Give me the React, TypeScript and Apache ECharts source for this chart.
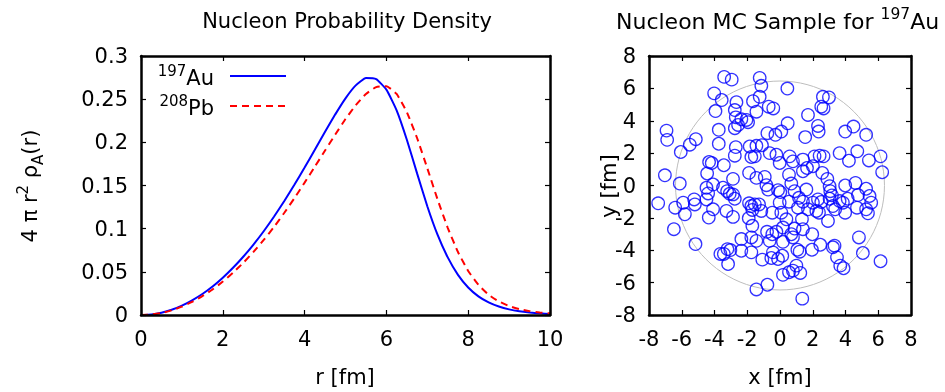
import React, { useEffect, useRef } from "react";
import * as echarts from "echarts";

// ---------- data ----------
const R_FM = [
  0, 0.25, 0.5, 0.75, 1, 1.25, 1.5, 1.75, 2, 2.25, 2.5, 2.75, 3, 3.25, 3.5, 3.75, 4, 4.25, 4.5, 4.75, 5,
  5.25, 5.5, 5.75, 6, 6.25, 6.5, 6.75, 7, 7.25, 7.5, 7.75, 8, 8.25, 8.5, 8.75, 9, 9.25, 9.5, 9.75, 10,
];
const AU_DENSITY = [
  0, 0.0007, 0.0027, 0.006, 0.0108, 0.017, 0.0243, 0.033, 0.0432, 0.0547, 0.0675, 0.0816, 0.097, 0.1138,
  0.1317, 0.1508, 0.1708, 0.1914, 0.2122, 0.2324, 0.251, 0.266, 0.2745, 0.2732, 0.261, 0.237, 0.203, 0.164,
  0.126, 0.093, 0.0667, 0.0465, 0.0319, 0.0216, 0.0146, 0.0098, 0.0065, 0.0043, 0.0029, 0.0019, 0.0012,
];
const PB_DENSITY = [
  0, 0.0006, 0.0024, 0.0054, 0.0097, 0.0152, 0.0218, 0.0296, 0.0387, 0.049, 0.0604, 0.0731, 0.0869, 0.1019,
  0.1181, 0.1353, 0.1533, 0.1718, 0.1905, 0.209, 0.227, 0.243, 0.256, 0.264, 0.265, 0.256, 0.235, 0.205,
  0.17, 0.134, 0.101, 0.073, 0.051, 0.035, 0.0235, 0.0157, 0.0104, 0.0068, 0.0045, 0.0029, 0.0019,
];
const AU_RADIUS = 6.38;

const SAMPLE_X = [
  -3.41, -2.95, -1.24, -1.14, 0.45,
  -4.02, -3.56, -1.65, -1.24, -2.66, 2.62, 2.99,
  -0.69, -0.41, -3.94, -2.76, -1.44, -2.7, 2.52, 2.66, 1.71, -2.05, -2.36, -1.95, -2.56, -2.76, 0.47, 2.32,
  -3.74, -6.93, 2.36, 3.98, 4.49, 5.26, 1.54, -0.77, -0.28, 0.08,
  -6.89, -5.14, -5.51, -6.06, -3.74, -2.7, -1.85, -1.44, -1.1, -0.63, 3.64, 4.72,
  -2.76, -1.54, -1.75, -0.22, -0.02, 0.59, 0.79, 1.4, 2.11, 2.42, 2.66, 4.21, 5.43, 6.14, -4.17, -4.33, -3.43, 1.65, 2.01,
  -7.03, -4.45, -6.12, -2.87, -1.89, -1.44, -0.93, -0.83, 0.55, 0.69, 1.4, 2.58, 2.89, 3.03, 3.98, 4.61, 6.24, -4.09,
  -0.73, -0.12, 0.02, 3.07, 3.17, 5.26, 5.47, 4.76, 4.13, -5.24, -4.49, -4.39, -4.49, -3.48, -3.23, -3.07, -2.87, -2.76, 1.61, 1.16, 2.32, 3.03, 3.64,
  5.57, 5.26, 5.37, 3.84, 3.98, 4.7, 3.23, 3.37, -7.44, -6.4, -5.81, -5.91, -5.2, -4.09, -4.35, -3.27, -2.87, -1.89, -1.75, -1.54, -1.28, -1.14, -1.69, -0.47, -0.02, 0.55, 2.01, 2.22, 2.38, 2.52, 1.4,
  -1.91, -1.69, 0.39, 0.18, -0.22, -0.79, -0.47, 0.89, 1.4, 1.34, 2.93, -6.48, 0.69, 1.97,
  -5.16, -1.75, -1.44, -2.36, -0.63, 0.18, 0.79, 1.06, 2.46, 3.23, 3.33, 4.82, -3.21, -0.43,
  -1.75, -2.36, -3.64, -3.43, -3.03, -3.17, 1.2, 1.95, 3.48, 3.68, 5.06, 6.14, -1.08, -0.53, -0.12, 0.14, 1.0,
  3.88, 0.18, 0.55, 0.79, 1.24,
  -1.44, -0.77, 1.36,
  1.1, 1.71, 0.08, 0.89,
];
const SAMPLE_Y = [
  6.71, 6.54, 6.65, 6.16, 5.99,
  5.69, 5.28, 5.21, 5.48, 5.15, 5.48, 5.44,
  4.87, 4.76, 4.6, 4.66, 4.56, 4.21, 4.87, 4.76, 4.36, 4.05, 4.09, 3.91, 3.74, 3.54, 3.84, 3.68,
  3.44, 3.39, 3.33, 3.33, 3.64, 3.13, 2.99, 3.23, 3.13, 3.33,
  2.82, 2.86, 2.52, 2.07, 2.58, 2.37, 2.41, 2.45, 2.49, 2.0, 2.0, 2.11,
  1.84, 1.8, 1.76, 1.9, 1.39, 1.8, 1.49, 1.6, 1.8, 1.84, 1.8, 1.53, 1.55, 1.8, 1.39, 1.45, 1.25, 1.08, 1.19,
  0.63, 0.74, 0.12, 0.41, 0.78, 0.47, 0.53, 0.02, 0.67, 0.12, 0.88, 0.78, 0.41, -0.04, 0.0, 0.16, 0.82, 0.06,
  -0.25, -0.29, -0.41, -0.35, -0.61, -0.2, -0.65, -0.59, -0.82, -0.86, -0.14, -0.49, -0.86, -0.14, -0.35, -0.51, -0.55, -0.82, -0.25, -0.76, -0.86, -0.82, -0.96,
  -1.06, -1.47, -1.72, -1.06, -1.68, -1.37, -1.27, -1.47, -1.1, -1.37, -1.78, -1.06, -1.17, -1.47, -1.98, -1.57, -1.94, -1.1, -1.27, -1.17, -1.17, -1.57, -1.51, -1.68, -1.06, -1.0, -1.06, -1.57, -1.68, -1.02, -1.0,
  -2.02, -2.49, -2.09, -2.6, -2.86, -2.86, -3.01, -2.66, -2.7, -2.09, -2.19, -2.7, -3.01, -3.01,
  -3.62, -3.21, -3.42, -3.31, -3.42, -3.48, -3.21, -3.97, -3.66, -3.82, -3.72, -3.21, -3.93, -4.13,
  -4.13, -4.03, -4.23, -4.23, -3.99, -4.85, -4.09, -3.97, -4.44, -4.95, -4.17, -4.68, -4.58, -4.48, -4.54, -4.34, -4.95,
  -5.11, -5.52, -5.36, -5.26, -5.4,
  -6.42, -6.13, -6.99,
  -1.37, -1.47, -1.68, -0.35,
];

const LEFT_X_RANGE = [0, 10, 2];
const LEFT_Y_RANGE = [0, 0.3, 0.05];
const RIGHT_RANGE = [-8, 8, 2];

const FONT = "DejaVu Sans";
const BLUE = "#0000ff";
const RED = "#ff0000";

export default function App() {
  const ref = useRef<HTMLDivElement>(null);

  useEffect(() => {
    document.body.style.margin = "0";
    const chart = echarts.init(ref.current!, null, { renderer: "svg" });

    const axis = (range: number[], gridIndex: number, position: string, showLabel: boolean, extra: any = {}) => ({
      type: "value",
      gridIndex,
      position,
      min: range[0],
      max: range[1],
      interval: range[2],
      z: 6,
      axisLine: { show: true, onZero: false, lineStyle: { color: "#000", width: 2.5 } },
      axisTick: { show: true, inside: true, length: 5, lineStyle: { color: "#000", width: 1.2 } },
      splitLine: { show: false },
      axisLabel: showLabel
        ? { show: true, fontFamily: FONT, fontSize: 21, color: "#000", margin: 13, ...extra }
        : { show: false },
    });

    const auData = R_FM.map((r, i) => [r, AU_DENSITY[i]]);
    const pbData = R_FM.map((r, i) => [r, PB_DENSITY[i]]);
    const sample = SAMPLE_X.map((x, i) => [x, SAMPLE_Y[i]]);

    chart.setOption({
      animation: false,
      grid: [
        { left: 141, top: 56, width: 409, height: 259 },
        { left: 649, top: 56, width: 262, height: 259 },
      ],
      xAxis: [
        axis(LEFT_X_RANGE, 0, "bottom", true),
        axis(LEFT_X_RANGE, 0, "top", false),
        axis(RIGHT_RANGE, 1, "bottom", true),
        axis(RIGHT_RANGE, 1, "top", false),
      ],
      yAxis: [
        axis(LEFT_Y_RANGE, 0, "left", true, {
          formatter: (v: number) => String(parseFloat(v.toFixed(2))),
        }),
        axis(LEFT_Y_RANGE, 0, "right", false),
        axis(RIGHT_RANGE, 1, "left", true),
        axis(RIGHT_RANGE, 1, "right", false),
      ],
      series: [
        {
          name: "197Au",
          type: "line",
          xAxisIndex: 0,
          yAxisIndex: 0,
          data: auData,
          smooth: 0.15,
          showSymbol: false,
          symbol: "none",
          lineStyle: { color: BLUE, width: 2 },
          z: 3,
        },
        {
          name: "208Pb",
          type: "line",
          xAxisIndex: 0,
          yAxisIndex: 0,
          data: pbData,
          smooth: 0.15,
          showSymbol: false,
          symbol: "none",
          lineStyle: { color: RED, width: 2, type: [7, 5] },
          z: 4,
        },
        {
          name: "sample",
          type: "scatter",
          xAxisIndex: 2,
          yAxisIndex: 2,
          data: sample,
          symbol: "circle",
          symbolSize: 12.5,
          itemStyle: { color: "rgba(0,0,0,0)", borderColor: BLUE, borderWidth: 1.3 },
          z: 5,
        },
      ],
    });

    const c = chart.convertToPixel({ gridIndex: 1 } as any, [0, 0]) as number[];
    const e = chart.convertToPixel({ gridIndex: 1 } as any, [AU_RADIUS, 0]) as number[];
    const ringR = e[0] - c[0];

    const mkRich = (size: number, supSize: number) => ({
      n: { fontFamily: FONT, fontSize: size, lineHeight: 30, fill: "#000", color: "#000" },
      s: { fontFamily: FONT, fontSize: supSize, lineHeight: 15, verticalAlign: "top", fill: "#000", color: "#000" },
      b: { fontFamily: FONT, fontSize: supSize, lineHeight: 15, verticalAlign: "bottom", fill: "#000", color: "#000" },
    });

    const txt = (text: string, x: number, y: number, align: string, rotation = 0, size = 21, supSize = 15) => ({
      type: "text",
      x,
      y,
      rotation,
      z: 10,
      style: {
        text,
        rich: mkRich(size, supSize),
        align,
        verticalAlign: "middle",
        textAlign: align,
        textVerticalAlign: "middle",
        fill: "#000",
        font: `${size}px "${FONT}"`,
      },
    });

    chart.setOption({
      graphic: {
        elements: [
          {
            type: "circle",
            shape: { cx: c[0], cy: c[1], r: ringR },
            style: { fill: "none", stroke: "#bdbdbd", lineWidth: 1 },
            z: 1,
          },
          txt("{n|Nucleon Probability Density}", 347, 21, "center"),
          txt("{n|Nucleon MC Sample for }{s|197}{n|Au}", 616, 21, "left", 0, 22, 15.5),
          txt("{n|r [fm]}", 345, 377, "center"),
          txt("{n|x [fm]}", 780, 377, "center"),
          txt("{n|y [fm]}", 609, 186, "center", Math.PI / 2),
          txt("{n|4 π r}{s|2}{n| ρ}{b|A}{n|(r)}", 30, 186, "center", Math.PI / 2),
          txt("{s|197}{n|Au}", 214, 78, "right"),
          txt("{s|208}{n|Pb}", 214, 108, "right"),
          {
            type: "line",
            shape: { x1: 230, y1: 76, x2: 286, y2: 76 },
            style: { stroke: BLUE, lineWidth: 2 },
            z: 10,
          },
          {
            type: "line",
            shape: { x1: 230, y1: 106, x2: 286, y2: 106 },
            style: { stroke: RED, lineWidth: 2, lineDash: [7, 5] },
            z: 10,
          },
        ],
      },
    });

    return () => chart.dispose();
  }, []);

  return <div ref={ref} style={{ position: "fixed", left: 0, top: 0, width: 945, height: 392 }} />;
}
